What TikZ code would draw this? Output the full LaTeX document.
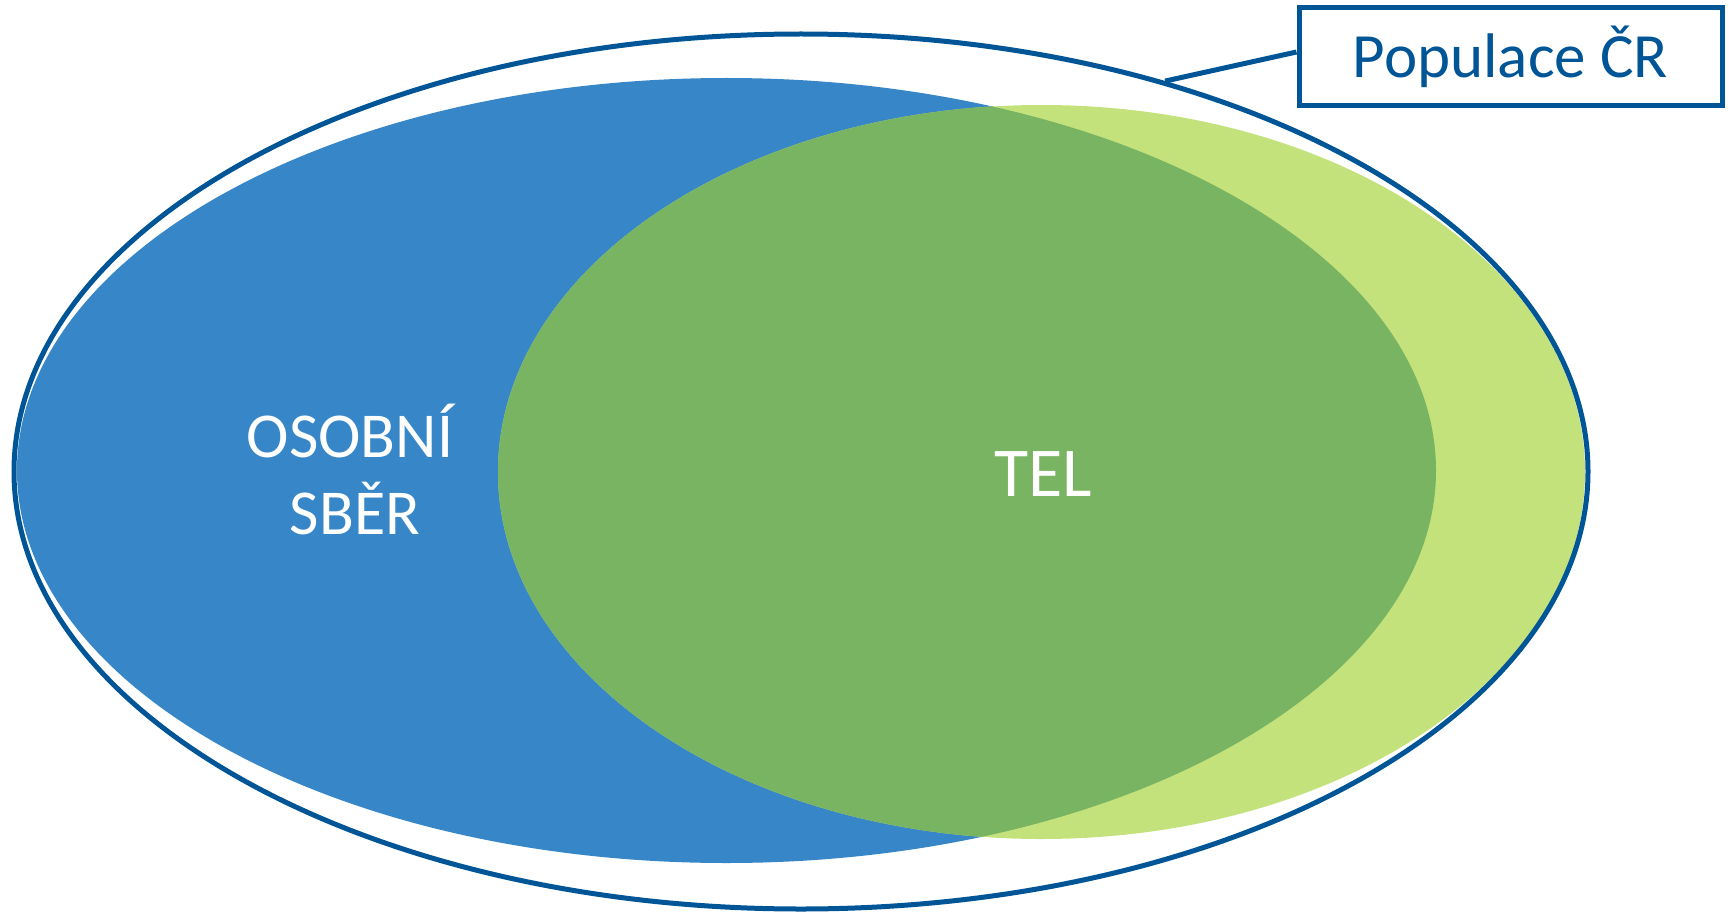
\documentclass[tikz,border=0pt]{standalone}
\usepackage{fontspec}
\setmainfont{Carlito}
\usetikzlibrary{shapes.geometric}
\definecolor{dblue}{RGB}{0,85,150}
\definecolor{bluefill}{RGB}{55,135,200}
\definecolor{ovgreen}{RGB}{121,180,98}
\definecolor{lgreen}{RGB}{196,226,123}
\tikzset{
  bigtext/.style={text=white, font=\fontsize{64}{77}\selectfont, align=center, inner sep=0pt},
  poptext/.style={draw=dblue, line width=5pt, text=dblue, font=\fontsize{63}{74}\selectfont, minimum width=423pt, minimum height=98pt, inner sep=0pt},
  outerell/.style={draw=dblue, line width=5pt, ellipse, minimum width=1574pt, minimum height=875pt, inner sep=0pt},
}
\begin{document}
\begin{tikzpicture}[x=1pt,y=-1pt]
\useasboundingbox (0,0) rectangle (1729,912);
\fill[bluefill] (726.5,470.5) ellipse [x radius=709.5, y radius=392.5];
\fill[lgreen] (1041.5,472) ellipse [x radius=543.5, y radius=367];
\begin{scope}
\clip (726.5,470.5) ellipse [x radius=709.5, y radius=392.5];
\fill[ovgreen] (1041.5,472) ellipse [x radius=543.5, y radius=367];
\end{scope}
\node[outerell] (pop) at (801,471.5) {};
\node[poptext] (box) at (1510.5,57) {Populace ČR};
\draw[dblue, line width=5pt] (pop.47.9) -- ([yshift=5pt]box.west);
\node[bigtext] (osobni) at (350,469) {OSOBNÍ\\\hspace*{10pt}SBĚR};
\node[bigtext, font=\fontsize{70}{80}\selectfont] (tel) at (1043,474) {TEL};
\end{tikzpicture}
\end{document}
